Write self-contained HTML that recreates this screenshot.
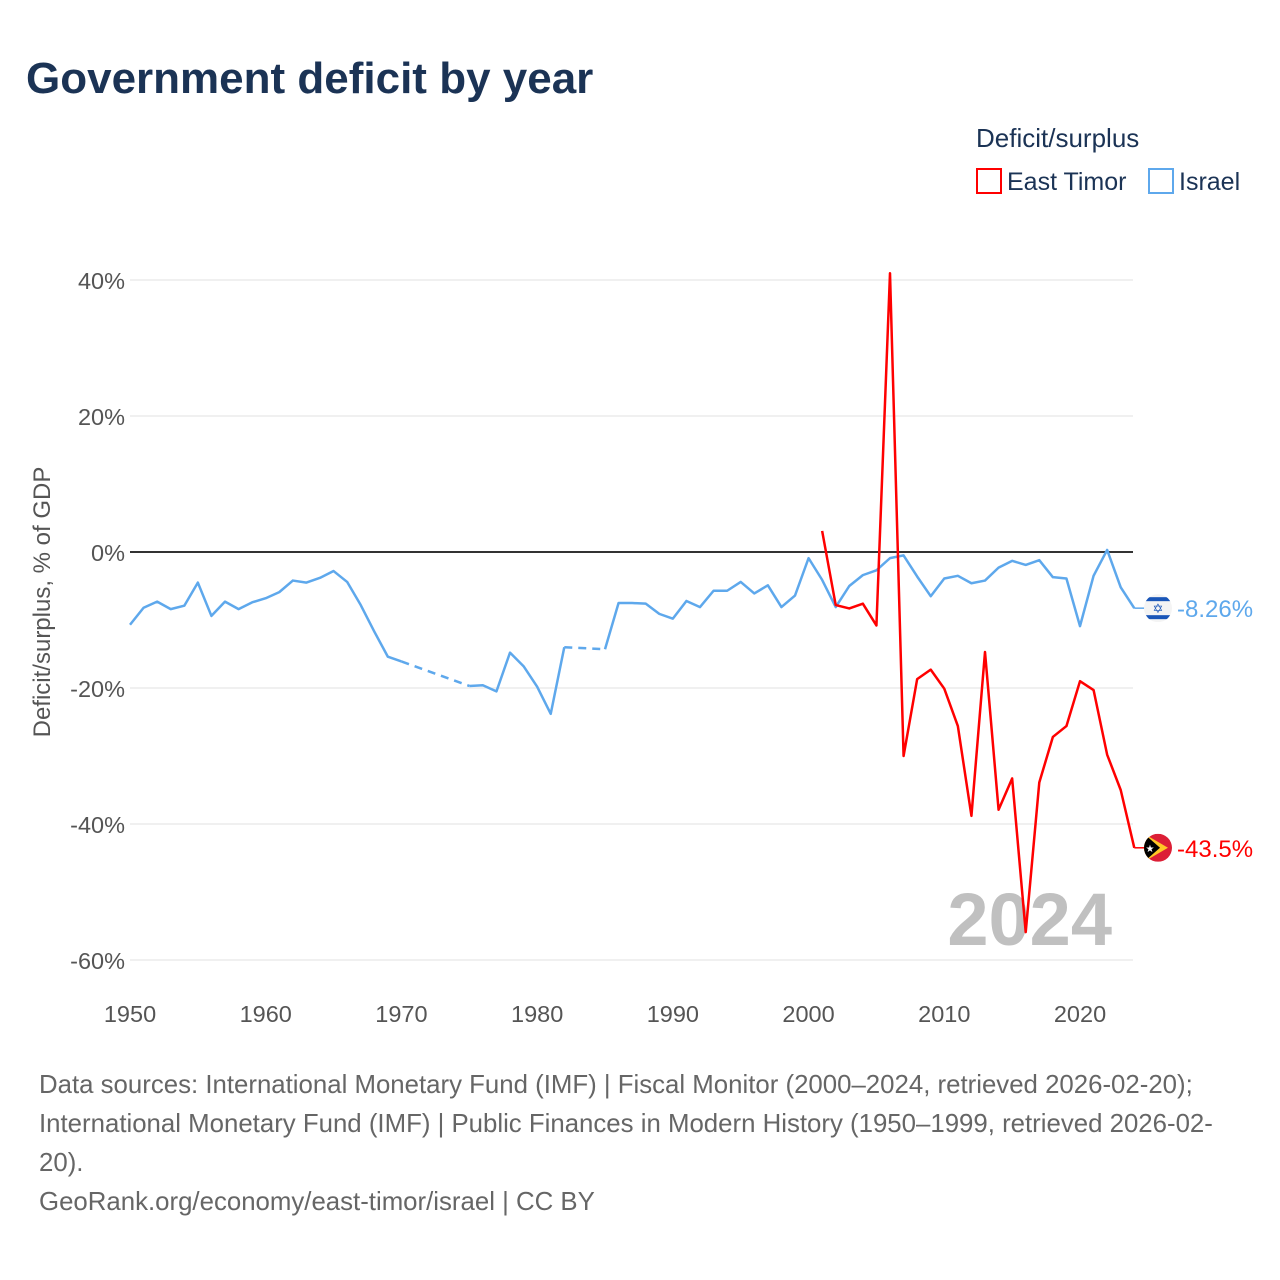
<!DOCTYPE html>
<html><head><meta charset="utf-8"><style>
body{margin:0;background:#fff;font-family:"Liberation Sans",sans-serif}
#wrap{position:relative;width:1280px;height:1280px;overflow:hidden}
</style></head><body>
<div id="wrap">
<svg id="chart" width="1280" height="1280" xmlns="http://www.w3.org/2000/svg">
<text x="26" y="93" font-size="44" font-weight="bold" fill="#1b3355" font-family="Liberation Sans, sans-serif">Government deficit by year</text>
<g font-family="Liberation Sans, sans-serif" fill="#1b3355">
<text x="976" y="147" font-size="26">Deficit/surplus</text>
<g><rect x="977" y="169" width="24" height="24" fill="none" stroke="#f00" stroke-width="2"/><text x="1007" y="190" font-size="25">East Timor</text></g>
<g><rect x="1149" y="169" width="24" height="24" fill="none" stroke="#5ea8ec" stroke-width="2"/><text x="1179" y="190" font-size="25">Israel</text></g>
</g>
<text transform="translate(50,602) rotate(-90)" text-anchor="middle" font-size="24" fill="#555">Deficit/surplus, % of GDP</text>
<g id="grid"></g><g id="ticks"></g>
<text x="1112" y="945" text-anchor="end" font-size="74" font-weight="bold" fill="#c0c0c0">2024</text>
<g id="series"></g>
<g id="endlabels"></g>
<g font-size="25.8" fill="#666">
<text x="39" y="1093">Data sources: International Monetary Fund (IMF) | Fiscal Monitor (2000–2024, retrieved 2026-02-20);</text>
<text x="39" y="1132">International Monetary Fund (IMF) | Public Finances in Modern History (1950–1999, retrieved 2026-02-</text>
<text x="39" y="1171">20).</text>
<text x="39" y="1210">GeoRank.org/economy/east-timor/israel | CC BY</text>
</g>
</svg>
</div>
<script>
const yTicks=[40,20,0,-20,-40,-60];
const xTicks=[1950,1960,1970,1980,1990,2000,2010,2020];
const israelYears=[1950,1951,1952,1953,1954,1955,1956,1957,1958,1959,1960,1961,1962,1963,1964,1965,1966,1967,1968,1969,1970,1975,1976,1977,1978,1979,1980,1981,1982,1985,1986,1987,1988,1989,1990,1991,1992,1993,1994,1995,1996,1997,1998,1999,2000,2001,2002,2003,2004,2005,2006,2007,2008,2009,2010,2011,2012,2013,2014,2015,2016,2017,2018,2019,2020,2021,2022,2023,2024];
const israelValues=[-10.7,-8.2,-7.3,-8.4,-7.9,-4.5,-9.4,-7.3,-8.4,-7.4,-6.8,-5.9,-4.2,-4.5,-3.8,-2.8,-4.4,-7.8,-11.7,-15.4,-16.1,-19.7,-19.6,-20.5,-14.8,-16.8,-19.8,-23.8,-14.0,-14.3,-7.5,-7.5,-7.6,-9.1,-9.8,-7.2,-8.1,-5.7,-5.7,-4.4,-6.1,-4.9,-8.1,-6.4,-0.9,-4.1,-8.1,-5.0,-3.4,-2.7,-0.9,-0.5,-3.6,-6.5,-3.9,-3.5,-4.6,-4.2,-2.3,-1.3,-1.9,-1.2,-3.7,-3.9,-10.9,-3.5,0.3,-5.2,-8.26];
const timorYears=[2001,2002,2003,2004,2005,2006,2007,2008,2009,2010,2011,2012,2013,2014,2015,2016,2017,2018,2019,2020,2021,2022,2023,2024];
const timorValues=[3.1,-7.8,-8.3,-7.6,-10.8,41.0,-30.0,-18.7,-17.3,-20.1,-25.6,-38.8,-14.7,-37.9,-33.3,-55.9,-33.9,-27.2,-25.6,-19.0,-20.3,-29.8,-35.0,-43.5];
const NS='http://www.w3.org/2000/svg';
const X=y=>130+(y-1950)*(950/70);
const Y=v=>552-v*6.8;
function mk(tag,attrs,parent){const e=document.createElementNS(NS,tag);for(const k in attrs)e.setAttribute(k,attrs[k]);parent.appendChild(e);return e;}
const grid=document.getElementById('grid'),ticks=document.getElementById('ticks'),series=document.getElementById('series'),endl=document.getElementById('endlabels');
yTicks.forEach(t=>{
 const l=mk('line',{x1:130,x2:1133,y1:Y(t),y2:Y(t),stroke:t===0?'#333':'#e8e8e8','stroke-width':t===0?2:1.2},grid);
 
 
 const tx=mk('text',{x:125,y:Y(t)+9,'text-anchor':'end','font-size':23.5,fill:'#555'},ticks);
 tx.textContent=t+'%';
 
 
});
xTicks.forEach(t=>{
 const tx=mk('text',{x:X(t),y:1022,'text-anchor':'middle','font-size':23.5,fill:'#555'},ticks);
 tx.textContent=t;
 
 
});
function drawSeries(years,vals,color,name){
 let solid='';
 for(let i=0;i<years.length;i++){
  const px=X(years[i]),py=Y(vals[i]);
  if(i>0&&years[i]-years[i-1]>1){
   const d=mk('line',{x1:X(years[i-1]),y1:Y(vals[i-1]),x2:px,y2:py,stroke:color,'stroke-width':2.5,'stroke-dasharray':'8,6'},series);
   
   
   solid+=' M'+px+','+py;
  } else solid+=(i===0?'M':' L')+px+','+py;
 }
 const p=mk('path',{d:solid,fill:'none',stroke:color,'stroke-width':2.5,'stroke-linejoin':'round'},series);
 
 
 const lx=X(years[years.length-1]),ly=Y(vals[vals.length-1]);
 const s=mk('line',{x1:lx,y1:ly,x2:lx+12,y2:ly,stroke:color,'stroke-width':1.5},series);
 
 
 const t=mk('text',{x:1177,y:ly+9,'font-size':24,fill:color},endl);
 t.textContent=vals[vals.length-1]+'%';
 
 
 return ly;
}
const iy=drawSeries(israelYears,israelValues,'#5ea8ec','israel');
const ty=drawSeries(timorYears,timorValues,'#ff0000','east-timor');
const fi=mk('g',{},endl);


mk('defs',{},fi).innerHTML='<clipPath id="ci"><circle cx="1158" cy="'+iy+'" r="14"/></clipPath><clipPath id="ct"><circle cx="1158" cy="'+ty+'" r="14"/></clipPath>';
const gi=mk('g',{'clip-path':'url(#ci)'},fi);
mk('rect',{x:1144,y:iy-14,width:28,height:28,fill:'#f4f4f4'},gi);
mk('rect',{x:1144,y:iy-11,width:28,height:4,fill:'#1a56b8'},gi);
mk('rect',{x:1144,y:iy+7,width:28,height:4,fill:'#1a56b8'},gi);
mk('text',{x:1158,y:iy+5,'text-anchor':'middle','font-size':13,fill:'#1a56b8'},gi).textContent='✡';
const ft=mk('g',{},endl);


const gt=mk('g',{'clip-path':'url(#ct)'},ft);
mk('rect',{x:1144,y:ty-14,width:28,height:28,fill:'#dc1f36'},gt);
mk('polygon',{points:'1144,'+(ty-14)+' 1168,'+ty+' 1144,'+(ty+14),fill:'#ffc726'},gt);
mk('polygon',{points:'1144,'+(ty-14)+' 1160,'+ty+' 1144,'+(ty+14),fill:'#000'},gt);
mk('text',{x:1150,y:ty+4,'text-anchor':'middle','font-size':10,fill:'#fff'},gt).textContent='★';
</script>
</body></html>
